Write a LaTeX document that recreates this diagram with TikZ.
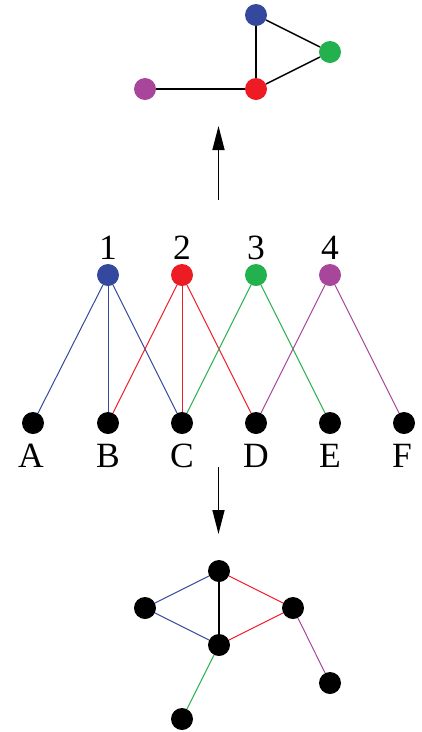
\documentclass[tikz,border=0pt]{standalone}
\usepackage{fontspec}
\setmainfont{Liberation Serif}
\usetikzlibrary{arrows.meta}
\definecolor{cblue}{RGB}{52,72,158}
\definecolor{cred}{RGB}{237,28,36}
\definecolor{cgreen}{RGB}{34,177,76}
\definecolor{cpurple}{RGB}{168,70,155}
\begin{document}
\begin{tikzpicture}[x=1pt,y=-1pt,
  dot/.style={circle,inner sep=0pt,minimum size=22pt},
  lab/.style={inner sep=0pt,font=\fontsize{35.5}{40}\selectfont},
  edge/.style={line width=1pt},
  bedge/.style={line width=1.5pt},
  bigarrow/.style={line width=1.5pt,-{Triangle[length=24pt,width=12pt]}}]
\useasboundingbox (0,0) rectangle (421,732);
% top graph
\node[dot,fill=cblue] (tb) at (256,15) {};
\node[dot,fill=cgreen] (tg) at (330,52) {};
\node[dot,fill=cred] (tr) at (256,89) {};
\node[dot,fill=cpurple] (tp) at (145,89) {};
\draw[bedge] (tb) -- (tr);
\draw[bedge] (tb) -- (tg);
\draw[bedge] (tg) -- (tr);
\draw[bedge] (tp) -- (tr);
% up arrow
\coordinate (ua) at (218.5,200);
\coordinate (ub) at (218.5,126);
\draw[bigarrow] (ua) -- (ub);
% bipartite
\node[dot,fill=cblue] (h1) at (108,275) {};
\node[dot,fill=cred] (h2) at (182,275) {};
\node[dot,fill=cgreen] (h3) at (256,275) {};
\node[dot,fill=cpurple] (h4) at (330,275) {};
\node[lab] (l1) at (108,248) {1};
\node[lab] (l2) at (182,248) {2};
\node[lab] (l3) at (256,248) {3};
\node[lab] (l4) at (330,248) {4};
\node[dot,fill=black] (A) at (33,423) {};
\node[dot,fill=black] (B) at (108,423) {};
\node[dot,fill=black] (C) at (182,423) {};
\node[dot,fill=black] (D) at (256,423) {};
\node[dot,fill=black] (E) at (330,423) {};
\node[dot,fill=black] (F) at (404,423) {};
\node[lab] (lA) at (31,456) {A};
\node[lab] (lB) at (108,456) {B};
\node[lab] (lC) at (182,456) {C};
\node[lab] (lD) at (256,456) {D};
\node[lab] (lE) at (330,456) {E};
\node[lab] (lF) at (402,456) {F};
\draw[edge,cblue] (h1) -- (A);
\draw[edge,cblue] (h1) -- (B);
\draw[edge,cblue] (h1) -- (C);
\draw[edge,cred] (h2) -- (B);
\draw[edge,cred] (h2) -- (C);
\draw[edge,cred] (h2) -- (D);
\draw[edge,cgreen] (h3) -- (C);
\draw[edge,cgreen] (h3) -- (E);
\draw[edge,cpurple] (h4) -- (D);
\draw[edge,cpurple] (h4) -- (F);
% down arrow
\coordinate (da) at (218.5,467);
\coordinate (db) at (218.5,534);
\draw[bigarrow] (da) -- (db);
% bottom graph
\node[dot,fill=black] (bt) at (219,571) {};
\node[dot,fill=black] (bl) at (145,608) {};
\node[dot,fill=black] (br) at (293,608) {};
\node[dot,fill=black] (bc) at (219,645) {};
\node[dot,fill=black] (bbr) at (330,683) {};
\node[dot,fill=black] (bbl) at (182,719) {};
\draw[edge,cblue] (bt) -- (bl);
\draw[edge,cblue] (bl) -- (bc);
\draw[bedge] (bt) -- (bc);
\draw[edge,cred] (bt) -- (br);
\draw[edge,cred] (br) -- (bc);
\draw[edge,cpurple] (br) -- (bbr);
\draw[edge,cgreen] (bc) -- (bbl);
\end{tikzpicture}
\end{document}
